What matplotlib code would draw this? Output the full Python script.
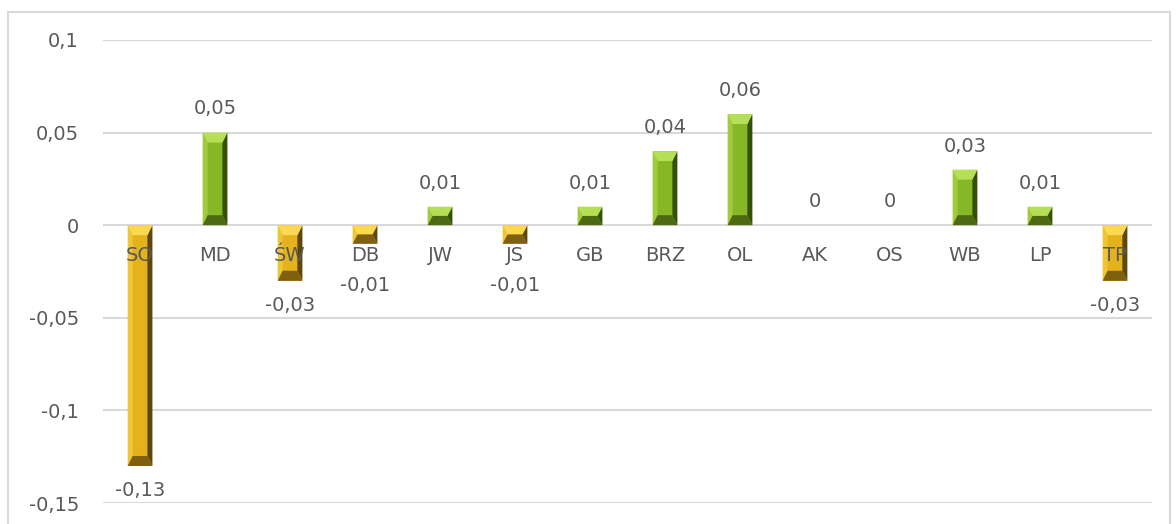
import matplotlib
matplotlib.use("Agg")
import matplotlib.pyplot as plt
from matplotlib.patches import Polygon, Rectangle

categories = ["SO", "MD", "ŚW", "DB", "JW", "JS", "GB", "BRZ", "OL", "AK", "OS", "WB", "LP", "TP"]
values = [-0.13, 0.05, -0.03, -0.01, 0.01, -0.01, 0.01, 0.04, 0.06, 0, 0, 0.03, 0.01, -0.03]
yticks = [0.1, 0.05, 0, -0.05, -0.1, -0.15]
ytick_labels = ["0,1", "0,05", "0", "-0,05", "-0,1", "-0,15"]

# face, top, right, left, bottom
GREEN = ("#86b726", "#b5df55", "#34500a", "#9fcb3c", "#4d6a12")
GOLD = ("#e4b21c", "#fbd855", "#5e470c", "#f0c535", "#7e6010")
TEXT = "#595959"
GRID = "#d9d9d9"

fig = plt.figure(figsize=(11.76, 5.24), dpi=100)
ax = fig.add_axes([0.0872, 0.040, 0.8928, 0.8837])
fig.patches.append(Rectangle((8 / 1176, -0.05), 1162 / 1176, 1.05 - 12 / 524,
                             transform=fig.transFigure, fill=False,
                             edgecolor=GRID, linewidth=1.5))

x = list(range(len(categories)))
ax.set_xlim(-0.5, len(categories) - 0.5)
ax.set_ylim(-0.15, 0.1)

colors = [GREEN if v >= 0 else GOLD for v in values]
bars = ax.bar(x, values, width=0.33, color=[c[0] for c in colors], zorder=3, linewidth=0)

# bevel look: pixel sizes converted to data units
px_x = 1.0 / 75.0
px_y = 0.25 / 463.0
for b, c in zip(bars, colors):
    h = b.get_height()
    if h == 0:
        continue
    x0 = b.get_x()
    x1 = x0 + b.get_width()
    ylo, yhi = sorted([b.get_y(), b.get_y() + h])
    dx = 5 * px_x
    dy = min(10 * px_y, (yhi - ylo) / 2)
    polys = [
        ([(x0, ylo), (x0 + dx, ylo + dy), (x0 + dx, yhi - dy), (x0, yhi)], c[3]),
        ([(x1, ylo), (x1 - dx, ylo + dy), (x1 - dx, yhi - dy), (x1, yhi)], c[2]),
        ([(x0, yhi), (x1, yhi), (x1 - dx, yhi - dy), (x0 + dx, yhi - dy)], c[1]),
        ([(x0, ylo), (x1, ylo), (x1 - dx, ylo + dy), (x0 + dx, ylo + dy)], c[4]),
    ]
    for pts, col in polys:
        ax.add_patch(Polygon(pts, closed=True, facecolor=col, edgecolor="none", zorder=4))

for xi, v in zip(x, values):
    lbl = ("%g" % v).replace(".", ",")
    if v >= 0:
        ax.annotate(lbl, (xi, v), xytext=(0, 17), textcoords="offset points",
                    ha="center", va="center", fontsize=14, color=TEXT, zorder=6)
    else:
        # keep negative labels clear of the category names
        depth = abs(v) / px_y
        off = max(depth + 25, 60) * 0.72
        ax.annotate(lbl, (xi, 0), xytext=(0, -off), textcoords="offset points",
                    ha="center", va="center", fontsize=14, color=TEXT, zorder=6)
    ax.annotate(categories[xi], (xi, 0), xytext=(0, -22), textcoords="offset points",
                ha="center", va="center", fontsize=14, color=TEXT, zorder=6)

ax.set_yticks(yticks)
ax.set_yticklabels(ytick_labels)
ax.tick_params(axis="y", length=0, pad=17, labelsize=14, labelcolor=TEXT)
ax.set_xticks([])
for s in ax.spines.values():
    s.set_visible(False)
ax.grid(axis="y", color=GRID, linewidth=1.5, zorder=0)
ax.set_axisbelow(True)

fig.savefig("out.png", dpi=100, facecolor="white")
